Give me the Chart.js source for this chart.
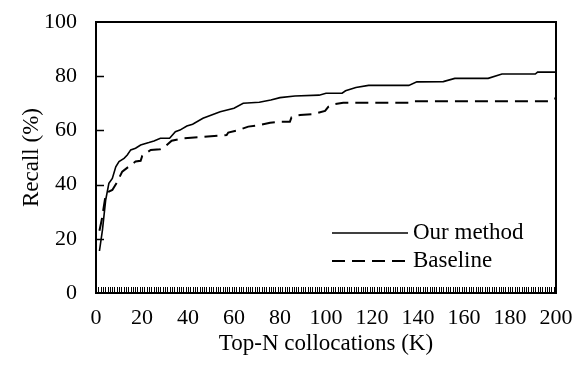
<!DOCTYPE html>
<html><head><meta charset="utf-8">
<script src="https://cdn.jsdelivr.net/npm/chart.js@4"></script>
<style>html,body{margin:0;padding:0;background:#fff}#wrap{width:573px;height:372px}</style>
</head><body><div id="wrap"><canvas id="c" width="573" height="372"></canvas></div>
<script>
const ourX = [1.5, 2.8, 4.2, 5.6, 7.1, 8.6, 10, 12.2, 13.6, 15.1, 17.2, 19.4, 23, 25.2, 28, 32, 34.5, 36.5, 39.5, 42, 46.5, 54, 60, 64, 71, 76, 80, 86.5, 97, 100, 107, 108.5, 113, 118.5, 136, 139.5, 151, 156, 170.5, 176.5, 191, 192, 200];
const ourY = [15.5, 23.2, 34.3, 40.5, 42.3, 46.6, 48.5, 49.7, 50.9, 52.8, 53.4, 54.6, 55.5, 56.1, 57.1, 57.1, 59.5, 60.1, 61.6, 62.3, 64.5, 66.9, 68.2, 70, 70.4, 71.2, 72.1, 72.7, 73, 73.7, 73.7, 74.6, 75.8, 76.6, 76.6, 77.9, 78, 79.2, 79.2, 80.8, 80.8, 81.5, 81.5];
const baseX = [1.5, 2.5, 4.2, 5.6, 7.1, 9.3, 11.4, 15.1, 17.2, 19.4, 20.1, 23.8, 27.8, 30, 32.9, 38, 56.8, 57.5, 61.9, 66.2, 71.3, 75.7, 80, 84.3, 85, 88.7, 94.5, 99.6, 101, 103.2, 107.5, 135.8, 137.3, 196.7, 198.8, 200];
const baseY = [23, 27, 36.2, 37.4, 38, 41.1, 44.8, 47.2, 48.5, 48.8, 50.6, 52.8, 53, 54, 56.2, 57.1, 58.3, 59.2, 60.1, 61.4, 62, 62.8, 63.2, 63.2, 64.8, 65.7, 66, 67.2, 68.7, 69.6, 70.2, 70.2, 70.8, 70.8, 71.8, 71.8];
const xTickLabels = [0, 20, 40, 60, 80, 100, 120, 140, 160, 180, 200];
const yTickLabels = [0, 20, 40, 60, 80, 100];
const seriesNames = ['Our method', 'Baseline'];

const FONT = '"Liberation Serif","Times New Roman",serif';
const FS = 22;
const FT = 23;

const framePlugin = {
  id: 'frame',
  afterDraw(chart) {
    const {ctx, chartArea: a, scales: {x, y}} = chart;
    ctx.save();
    ctx.strokeStyle = '#000';
    // minor x ticks (inward)
    ctx.lineWidth = 1;
    ctx.beginPath();
    for (let v = 1; v < 200; v++) {
      const px = Math.round(x.getPixelForValue(v)) + 0.5;
      ctx.moveTo(px, a.bottom);
      ctx.lineTo(px, a.bottom - 6);
    }
    ctx.stroke();
    // y ticks (inward)
    ctx.lineWidth = 1.5;
    ctx.beginPath();
    for (const v of yTickLabels) {
      if (v <= 0 || v >= 100) continue;
      const py = Math.round(y.getPixelForValue(v)) + 0.5;
      ctx.moveTo(a.left, py);
      ctx.lineTo(a.left + 8, py);
    }
    ctx.stroke();
    // frame
    ctx.lineWidth = 2;
    ctx.strokeRect(a.left, a.top, a.right - a.left, a.bottom - a.top);
    // legend
    const ds = chart.data.datasets;
    const lx0 = 332, lx1 = 408, tx = 413;
    const rows = [233, 261];
    ctx.font = FT + 'px ' + FONT;
    ctx.fillStyle = '#000';
    ctx.textBaseline = 'middle';
    ds.forEach((d, i) => {
      ctx.lineWidth = d.borderWidth;
      ctx.setLineDash(d.borderDash || []);
      ctx.beginPath();
      ctx.moveTo(lx0, rows[i]);
      ctx.lineTo(lx1, rows[i]);
      ctx.stroke();
      ctx.setLineDash([]);
      ctx.fillText(d.label, tx, rows[i]);
    });
    ctx.restore();
  }
};

new Chart(document.getElementById('c'), {
  type: 'line',
  data: {
    datasets: [
      { label: seriesNames[0], data: ourX.map((v, i) => ({x: v, y: ourY[i]})), borderColor: '#000', borderWidth: 1.6, pointRadius: 0, tension: 0, fill: false },
      { label: seriesNames[1], data: baseX.map((v, i) => ({x: v, y: baseY[i]})), borderColor: '#000', borderWidth: 2, borderDash: [13, 7], pointRadius: 0, tension: 0, fill: false }
    ]
  },
  options: {
    responsive: false,
    animation: false,
    devicePixelRatio: 1,
    layout: { padding: { top: 22, right: 17, left: 0, bottom: 0 } },
    plugins: { legend: { display: false }, tooltip: { enabled: false } },
    scales: {
      x: {
        type: 'linear', min: 0, max: 200,
        afterBuildTicks: s => { s.ticks = xTickLabels.map(v => ({value: v})); },
        ticks: { color: '#000', font: { family: FONT, size: FS }, padding: 12, maxRotation: 0, autoSkip: false },
        grid: { display: false, drawTicks: false },
        border: { display: false },
        title: { display: true, text: 'Top-N collocations (K)', color: '#000', font: { family: FONT, size: FT }, padding: { top: 0, bottom: 14 } },
        afterFit: s => { s.height = 79; s.paddingLeft = 0; s.paddingRight = 0; }
      },
      y: {
        min: 0, max: 100,
        afterBuildTicks: s => { s.ticks = yTickLabels.map(v => ({value: v})); },
        ticks: { color: '#000', font: { family: FONT, size: FS }, padding: 19 },
        grid: { display: false, drawTicks: false },
        border: { display: false },
        title: { display: true, text: 'Recall (%)', color: '#000', font: { family: FONT, size: FT }, padding: { top: 18, bottom: 0 } },
        afterFit: s => { s.width = 96; s.paddingTop = 0; s.paddingBottom = 0; }
      }
    }
  },
  plugins: [framePlugin]
});
</script>
</body></html>
